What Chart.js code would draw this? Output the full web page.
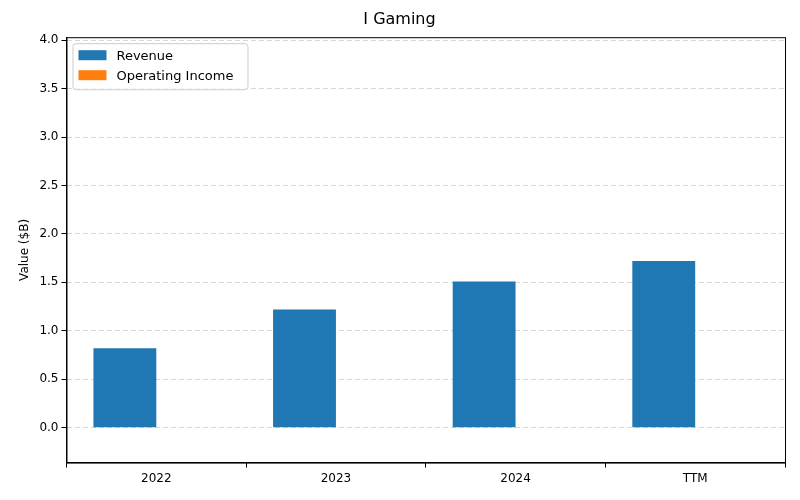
<!DOCTYPE html>
<html><head><script src="https://cdn.jsdelivr.net/npm/chart.js@4"></script>
<style>body{margin:0;background:#fff}#w{width:800px;height:500px}</style></head>
<body><div id="w"><canvas id="c" width="800" height="500"></canvas></div>
<script>
const categories=["2022","2023","2024","TTM"];
const revenue=[0.82,1.22,1.51,1.72];
const operatingIncome=[0,0,0,0];
const yTicks=[0,0.5,1,1.5,2,2.5,3,3.5,4];
const F="DejaVu Sans";
const legendPlugin={id:'lg',afterDraw(ch){const c=ch.ctx;const a=ch.chartArea;
c.save();c.strokeStyle='#000';c.lineWidth=1;c.strokeRect(a.left+0.5,a.top+0.5,a.right-a.left,a.bottom-a.top);
const x=a.left+6,y=a.top+6;
c.fillStyle='rgba(255,255,255,0.8)';c.strokeStyle='#ccc';
c.beginPath();c.roundRect(x+0.5,y+0.5,175,46,3);c.fill();c.stroke();
const items=[["Revenue","#1f77b4"],["Operating Income","#ff7f0e"]];
c.font="13px "+F;c.textBaseline='middle';
items.forEach((it,i)=>{const yy=y+12+i*20;c.fillStyle=it[1];c.fillRect(x+6,yy-5,28,10);c.fillStyle='#000';c.fillText(it[0],x+44,yy+1);});
c.restore();}};
new Chart(document.getElementById('c'),{type:'bar',
data:{labels:categories,datasets:[
{label:'Revenue',data:revenue,backgroundColor:'#1f77b4',categoryPercentage:0.7,barPercentage:1},
{label:'Operating Income',data:operatingIncome,backgroundColor:'#ff7f0e',categoryPercentage:0.7,barPercentage:1}]},
options:{responsive:false,animation:false,
layout:{padding:{left:14,right:15,top:4,bottom:10}},
plugins:{legend:{display:false},tooltip:{enabled:false},
title:{display:true,text:'I Gaming',font:{family:F,size:16,weight:'normal'},color:'#000',padding:{top:6,bottom:8}}},
scales:{
x:{grid:{display:true,drawOnChartArea:false,tickColor:'#000',tickLength:5},border:{color:'#000'},ticks:{color:'#000',font:{family:F,size:12},padding:4}},
y:{min:-0.36,max:4.03,afterBuildTicks:(s)=>{s.ticks=yTicks.map(v=>({value:v}));},
title:{display:true,text:'Value ($B)',font:{family:F,size:12},color:'#000'},
border:{color:'#000',dash:[5,3]},
grid:{color:'rgba(176,176,176,0.5)',tickColor:'#000',tickLength:5},
ticks:{color:'#000',font:{family:F,size:12},callback:v=>v.toFixed(1)}}}},
plugins:[legendPlugin]});
</script></body></html>
